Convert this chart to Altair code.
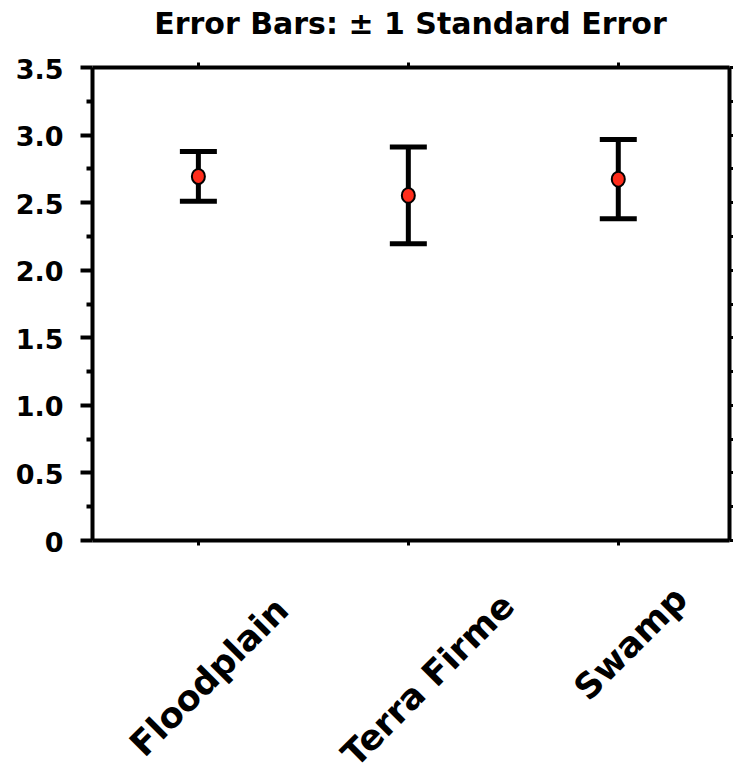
import altair as alt
import pandas as pd

# Mean value per site with its standard error
sites = ["Floodplain", "Terra Firme", "Swamp"]
means = [2.69, 2.55, 2.67]
std_errors = [0.184, 0.358, 0.293]

# Y tick positions (labelled every 0.5, minor ticks between)
y_ticks = [0, 0.25, 0.5, 0.75, 1.0, 1.25, 1.5, 1.75, 2.0, 2.25, 2.5, 2.75, 3.0, 3.25, 3.5]

df = pd.DataFrame({"site": sites, "mean": means, "se": std_errors})
df["lower"] = df["mean"] - df["se"]
df["upper"] = df["mean"] + df["se"]

FONT = "DejaVu Sans"
W, H = 637, 473

x_scale = alt.Scale(type="point", domain=sites, padding=0.517, align=0.49)
y_scale = alt.Scale(domain=[0, 3.5], nice=False, zero=True)

minor = "datum.value % 0.5 != 0"

x_axis = alt.Axis(
    orient="bottom", title=None, grid=False,
    labelAngle=-45, labelAlign="right", labelBaseline="middle",
    labelFont=FONT, labelFontSize=35, labelFontWeight="bold", labelColor="black",
    labelOffset={"condition": [
        {"test": "datum.value == 'Terra Firme'", "value": 100},
        {"test": "datum.value == 'Swamp'", "value": 63},
    ], "value": 84},
    labelPadding={"condition": [
        {"test": "datum.value == 'Terra Firme'", "value": 55},
        {"test": "datum.value == 'Swamp'", "value": 48},
    ], "value": 59},
    labelOverlap=False, labelLimit=0,
    tickSize=5, tickWidth=3, tickColor="black",
    domainColor="black", domainWidth=4,
)
y_axis = alt.Axis(
    orient="left", title=None, grid=False, values=y_ticks,
    labelExpr=f"{minor} ? '' : (datum.value == 0 ? '0' : format(datum.value, '.1f'))",
    labelFont=FONT, labelFontSize=27, labelFontWeight="bold", labelColor="black",
    labelPadding=17, labelOffset=3,
    tickSize={"condition": {"test": minor, "value": 6}, "value": 12},
    tickWidth=4, tickColor="black",
    domainColor="black", domainWidth=4,
)

base = alt.Chart(df)
X = alt.X("site:N", scale=x_scale, axis=x_axis, sort=sites)

stems = base.mark_rule(color="black", strokeWidth=5).encode(
    x=X,
    y=alt.Y("lower:Q", scale=y_scale, axis=y_axis),
    y2="upper:Q",
)
caps_hi = base.mark_tick(color="black", size=37, thickness=5, opacity=1).encode(
    x=X, y=alt.Y("upper:Q", scale=y_scale, axis=y_axis)
)
caps_lo = base.mark_tick(color="black", size=37, thickness=5, opacity=1).encode(
    x=X, y=alt.Y("lower:Q", scale=y_scale, axis=y_axis)
)
ELLIPSE = "M-1,0A1,1.15,0,1,1,1,0A1,1.15,0,1,1,-1,0Z"
points = base.mark_point(
    shape=ELLIPSE, size=169, filled=True, fill="#ff2d1c",
    stroke="black", strokeWidth=2, opacity=1,
).encode(x=X, y=alt.Y("mean:Q", scale=y_scale, axis=y_axis))

main = alt.layer(stems, caps_hi, caps_lo, points)

# Invisible layer that carries the top and right frame axes
frame = base.mark_point(opacity=0).encode(
    x=alt.X("site:N", scale=x_scale, sort=sites, axis=alt.Axis(
        orient="top", title=None, labels=False, grid=False,
        tickSize=5, tickWidth=3, tickColor="black",
        domainColor="black", domainWidth=4,
    )),
    y=alt.Y("mean:Q", scale=y_scale, axis=alt.Axis(
        orient="right", title=None, labels=False, grid=False, values=y_ticks,
        tickSize=4, tickWidth=3, tickColor="black",
        domainColor="black", domainWidth=4,
    )),
)

chart = (
    alt.layer(main, frame)
    .resolve_axis(x="independent", y="independent")
    .properties(
        width=W, height=H,
        title=alt.TitleParams(
            "Error Bars: ± 1 Standard Error",
            font=FONT, fontSize=30, fontWeight="bold", color="black",
            anchor="middle", frame="group", offset=16,
        ),
        autosize=alt.AutoSizeParams(type="none"),
        padding={"left": 92, "top": 67, "right": 4, "bottom": 233},
        background="white",
    )
    .configure_view(stroke=None)
)

chart.save("out.html", embed_options={"renderer": "svg", "actions": False})
